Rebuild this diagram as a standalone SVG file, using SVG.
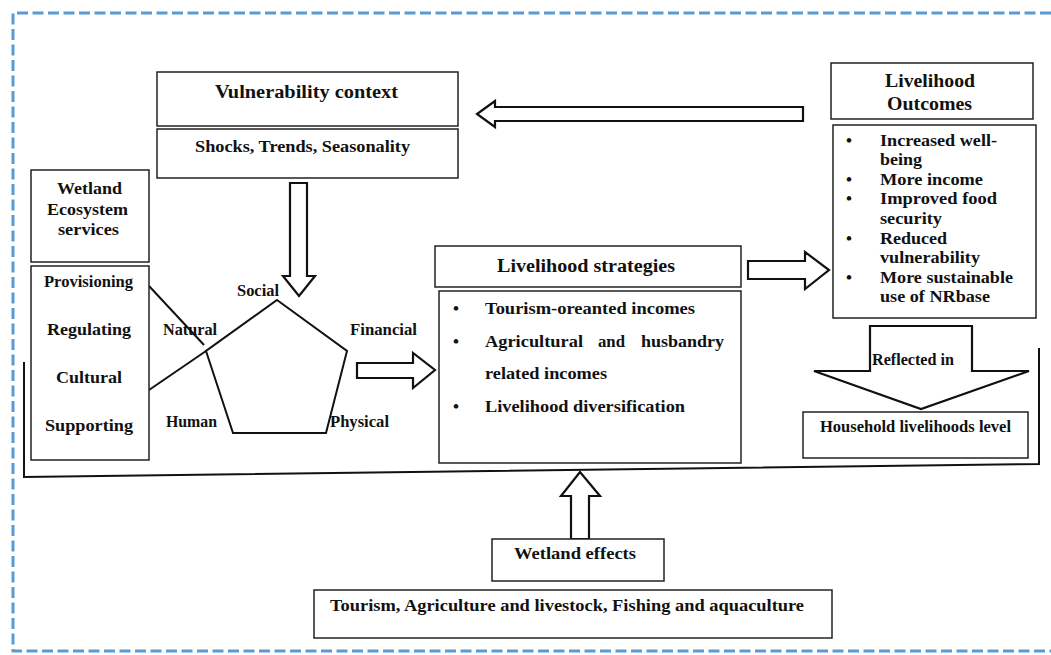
<svg xmlns="http://www.w3.org/2000/svg" width="1051" height="655" viewBox="0 0 1051 655">
<style>
.box{fill:#fff;stroke:#222;stroke-width:1.5}
.arr{fill:#fff;stroke:#111;stroke-width:2.2;stroke-linejoin:miter}
.ln{fill:none;stroke:#111;stroke-width:2}
text{font-family:"Liberation Serif","Times New Roman",serif;font-weight:bold;fill:#111}
.t18{font-size:18px}
.t17{font-size:17px}
.t16{font-size:16px}
.c{text-anchor:middle}
</style>
<rect width="1051" height="655" fill="#fff"/>
<path d="M1051 13 H13 V651 H1051" fill="none" stroke="#5b9bd5" stroke-width="3" stroke-dasharray="11 4.5"/>

<g id="connectors">
  <path class="ln" d="M24 362 V477 L1039 464 V348" stroke-width="3"/>
  <path class="arr" d="M803 107 H495 V101 L477 114 L495 127 V121 H803 Z"/>
  <path class="arr" d="M290 183 H307 V276 H315 L299 296 L283 276 H290 Z"/>
  <path class="arr" d="M357 363 H413 V353 L435 370 L413 388 V378 H357 Z"/>
  <path class="arr" d="M748 261 H805 V252 L829 270 L805 289 V279 H748 Z"/>
  <path class="arr" d="M571 539 V496 H561 L580 472 L600 496 H589 V539 Z"/>
  <line class="ln" x1="149" y1="286" x2="204" y2="345"/>
  <line class="ln" x1="149" y1="390" x2="206" y2="351"/>
</g>

<g id="vulnerability">
  <rect class="box" x="157" y="72" width="301" height="54"/>
  <text class="t18" x="215" y="98" textLength="183" lengthAdjust="spacingAndGlyphs">Vulnerability context</text>
  <rect class="box" x="157" y="129" width="301" height="49"/>
  <text class="t16" x="195" y="152" textLength="215" lengthAdjust="spacingAndGlyphs">Shocks, Trends, Seasonality</text>
</g>

<g id="outcomes">
  <rect class="box" x="831" y="63" width="202" height="56"/>
  <text class="t18" x="885" y="87" textLength="90" lengthAdjust="spacingAndGlyphs">Livelihood</text>
  <text class="t18" x="887" y="110" textLength="85" lengthAdjust="spacingAndGlyphs">Outcomes</text>
  <rect class="box" x="833" y="125" width="203" height="193"/>
  <g class="t17">
    <text x="846" y="146">•</text><text x="880" y="146" textLength="117" lengthAdjust="spacingAndGlyphs">Increased well-</text>
    <text x="880" y="165" textLength="42" lengthAdjust="spacingAndGlyphs">being</text>
    <text x="846" y="185">•</text><text x="880" y="185" textLength="103" lengthAdjust="spacingAndGlyphs">More income</text>
    <text x="846" y="204">•</text><text x="880" y="204" textLength="117" lengthAdjust="spacingAndGlyphs">Improved food</text>
    <text x="880" y="224" textLength="62" lengthAdjust="spacingAndGlyphs">security</text>
    <text x="846" y="244">•</text><text x="880" y="244" textLength="67" lengthAdjust="spacingAndGlyphs">Reduced</text>
    <text x="880" y="263" textLength="100" lengthAdjust="spacingAndGlyphs">vulnerability</text>
    <text x="846" y="283">•</text><text x="880" y="283" textLength="133" lengthAdjust="spacingAndGlyphs">More sustainable</text>
    <text x="880" y="302" textLength="110" lengthAdjust="spacingAndGlyphs">use of NRbase</text>
  </g>
</g>

<g id="wetland-services">
  <rect class="box" x="31" y="170" width="118" height="92"/>
  <g class="t17">
    <text x="57" y="194" textLength="65" lengthAdjust="spacingAndGlyphs">Wetland</text>
    <text x="47" y="215" textLength="81" lengthAdjust="spacingAndGlyphs">Ecosystem</text>
    <text x="58" y="235" textLength="61" lengthAdjust="spacingAndGlyphs">services</text>
  </g>
  <rect class="box" x="31" y="266" width="118" height="194"/>
  <g class="t16">
    <text x="44" y="287" textLength="89" lengthAdjust="spacingAndGlyphs">Provisioning</text>
    <text x="47" y="335" textLength="84" lengthAdjust="spacingAndGlyphs">Regulating</text>
    <text x="56" y="383" textLength="66" lengthAdjust="spacingAndGlyphs">Cultural</text>
    <text x="45" y="431" textLength="88" lengthAdjust="spacingAndGlyphs">Supporting</text>
  </g>
</g>

<g id="capitals">
  <polygon points="277,300 347,351 326,433 233,433 206,351" fill="none" stroke="#111" stroke-width="2"/>
  <g class="t16">
    <text x="237" y="296" textLength="42" lengthAdjust="spacingAndGlyphs">Social</text>
    <text x="163" y="335" textLength="54" lengthAdjust="spacingAndGlyphs">Natural</text>
    <text x="350" y="335" textLength="67" lengthAdjust="spacingAndGlyphs">Financial</text>
    <text x="166" y="427" textLength="51" lengthAdjust="spacingAndGlyphs">Human</text>
    <text x="330" y="427" textLength="59" lengthAdjust="spacingAndGlyphs">Physical</text>
  </g>
</g>

<g id="strategies">
  <rect class="box" x="435" y="246" width="306" height="41"/>
  <text class="t18" x="497" y="272" textLength="178" lengthAdjust="spacingAndGlyphs">Livelihood strategies</text>
  <rect class="box" x="439" y="291" width="302" height="172"/>
  <g class="t17">
    <text x="453" y="314">•</text><text x="485" y="314" textLength="210" lengthAdjust="spacingAndGlyphs">Tourism-oreanted incomes</text>
    <text x="453" y="347">•</text><text x="485" y="347" textLength="98" lengthAdjust="spacingAndGlyphs">Agricultural</text><text x="598" y="347" textLength="27" lengthAdjust="spacingAndGlyphs">and</text><text x="641" y="347" textLength="83" lengthAdjust="spacingAndGlyphs">husbandry</text>
    <text x="485" y="379" textLength="122" lengthAdjust="spacingAndGlyphs">related incomes</text>
    <text x="453" y="412">•</text><text x="485" y="412" textLength="200" lengthAdjust="spacingAndGlyphs">Livelihood diversification</text>
  </g>
</g>

<g id="reflected">
  <path class="arr" d="M870 326 H972 V371 H1029 L921 409 L814 371 H870 Z"/>
  <text class="t16" x="872" y="365" textLength="82" lengthAdjust="spacingAndGlyphs">Reflected in</text>
</g>

<g id="household">
  <rect class="box" x="803" y="412" width="225" height="46"/>
  <text class="t16" x="820" y="432" textLength="191" lengthAdjust="spacingAndGlyphs">Household livelihoods level</text>
</g>

<g id="wetland-effects">
  <rect class="box" x="492" y="539" width="172" height="42"/>
  <text class="t16" x="514" y="559" textLength="122" lengthAdjust="spacingAndGlyphs">Wetland effects</text>
</g>

<g id="activities">
  <rect class="box" x="314" y="590" width="518" height="48"/>
  <text class="t16" x="330" y="611" textLength="474" lengthAdjust="spacingAndGlyphs">Tourism, Agriculture and livestock, Fishing and aquaculture</text>
</g>
</svg>
